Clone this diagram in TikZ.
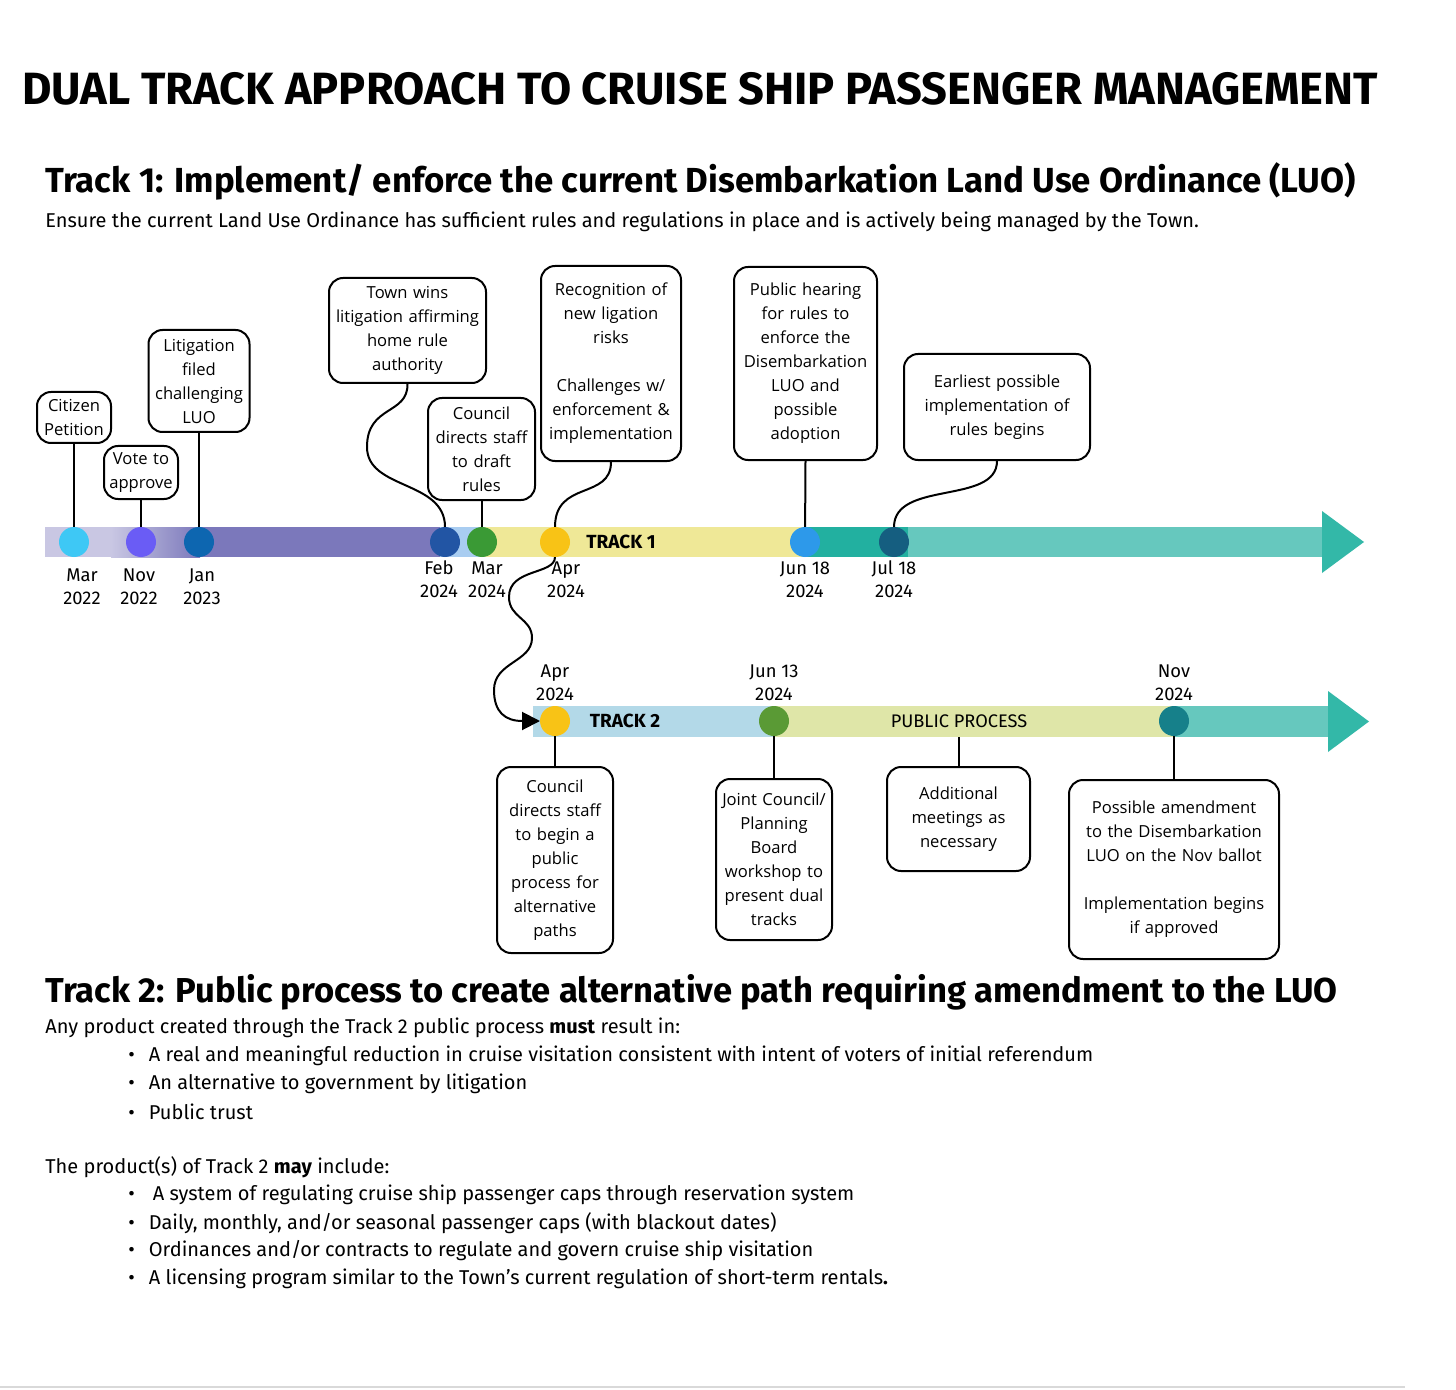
\documentclass[tikz,border=0pt]{standalone}
\usepackage{fontspec}
\usepackage{tikz}
\usetikzlibrary{positioning,arrows.meta}
\setmainfont{Fira Sans}
\newfontfamily\boxfont{Open Sans}

\definecolor{lavender}{HTML}{C9C7E3}
\definecolor{purplebar}{HTML}{7B78BB}
\definecolor{skybar}{HTML}{A9CDF1}
\definecolor{yellowbar}{HTML}{EFE897}
\definecolor{tealbar}{HTML}{22B0A0}
\definecolor{lteal}{HTML}{66C8BE}
\definecolor{headteal}{HTML}{33B8A8}
\definecolor{bluebar}{HTML}{B3D9E8}
\definecolor{greenbar}{HTML}{DFE6A8}
\definecolor{dcyan}{HTML}{3EC8F5}
\definecolor{dviolet}{HTML}{6A5CF5}
\definecolor{dblue}{HTML}{0D66B0}
\definecolor{dnavy}{HTML}{2255A4}
\definecolor{dgreen}{HTML}{3A9A35}
\definecolor{dyellow}{HTML}{F8C316}
\definecolor{dsky}{HTML}{2D99EA}
\definecolor{dpetrol}{HTML}{155E80}
\definecolor{dolive}{HTML}{5A9A35}
\definecolor{dteal}{HTML}{16808A}

\tikzset{
  evt/.style={draw, line width=1pt, rounded corners=7pt, align=center, inner sep=0pt,
    font=\boxfont\fontsize{8.3}{12}\selectfont},
  dot/.style={circle, minimum size=15pt, inner sep=0pt},
  datelbl/.style={align=center, font=\fontsize{9.2}{11.5}\selectfont},
  link/.style={line width=1pt},
  bodytxt/.style={anchor=west, inner sep=0pt, font=\fontsize{10}{12}\selectfont},
  trackname/.style={font=\bfseries\fontsize{9.5}{10}\selectfont},
}

\begin{document}
\begin{tikzpicture}[x=0.5pt,y=-0.5pt]
\useasboundingbox (0,0) rectangle (1456,1390);
\fill[white] (0,0) rectangle (1456,1390);
\draw[black!15, line width=1pt] (0,1387) -- (1405,1387);

% headings
\node[anchor=west, inner sep=0pt, font=\bfseries\fontsize{22.6}{26}\selectfont] (title) at (22,89)
  {DUAL TRACK APPROACH TO CRUISE SHIP PASSENGER MANAGEMENT};
\node[anchor=west, inner sep=0pt, font=\bfseries\fontsize{17.4}{20}\selectfont] (head1) at (45,181)
  {Track 1: Implement/ enforce the current Disembarkation Land Use Ordinance (LUO)};
\node[bodytxt] (sub1) at (45,222)
  {Ensure the current Land Use Ordinance has sufficient rules and regulations in place and is actively being managed by the Town.};

% track 1 bar
\fill[lavender] (45,527) rectangle (112,557);
\shade[left color=lavender, right color=purplebar] (111,527) rectangle (200,557);
\fill[purplebar] (199,527) rectangle (441,557);
\fill[skybar] (440,527) rectangle (486,557);
\fill[yellowbar] (485,527) rectangle (806,557);
\fill[tealbar] (805,527) rectangle (909,557);
\fill[lteal] (908,527) rectangle (1323,557);
\fill[headteal] (1322,511) -- (1364,542) -- (1322,573) -- cycle;
\node[trackname] (t1) at (621,542) {TRACK 1};

% track 2 bar
\fill[bluebar] (533,706) rectangle (775,737);
\fill[greenbar] (774,706) rectangle (1175,737);
\fill[lteal] (1174,706) rectangle (1329,737);
\fill[headteal] (1328,691) -- (1369,721.5) -- (1328,752) -- cycle;
\node[trackname] (t2) at (625,721) {TRACK 2};
\node[font=\fontsize{9.1}{10}\selectfont] (pubproc) at (959,721) {PUBLIC PROCESS};

% track 1 boxes
\node[evt, text width=37pt, minimum height=25.5pt] (cit) at (74,417.5) {Citizen\\Petition};
\node[evt, text width=37pt, minimum height=26.5pt] (vote) at (141,472.5) {Vote to\\approve};
\node[evt, text width=50.5pt, minimum height=51pt] (lit) at (199,381) {Litigation\\filed\\challenging\\LUO};
\node[evt, text width=78.5pt, minimum height=52.5pt] (town) at (407.5,330.5) {Town wins\\litigation affirming\\home rule\\authority};
\node[evt, text width=53.5pt, minimum height=51pt] (cds) at (481.5,449) {Council\\directs staff\\to draft\\rules};
\node[evt, text width=70pt, minimum height=97.5pt] (reco) at (611,363.5) {Recognition of\\new ligation\\risks\\[12pt]Challenges w/\\enforcement \&\\implementation};
\node[evt, text width=71.5pt, minimum height=96.5pt] (hear) at (805.5,363.5) {Public hearing\\for rules to\\enforce the\\Disembarkation\\LUO and\\possible\\adoption};
\node[evt, text width=93pt, minimum height=53pt] (earl) at (997,407) {Earliest possible\\implementation of\\rules begins};

% track 2 boxes
\node[evt, text width=58pt, minimum height=93pt] (cps) at (555,860) {Council\\directs staff\\to begin a\\public\\process for\\alternative\\paths};
\node[evt, text width=58pt, minimum height=80.5pt] (joint) at (774,859.5) {Joint Council/\\Planning\\Board\\workshop to\\present dual\\tracks};
\node[evt, text width=71.5pt, minimum height=52pt] (addl) at (958.5,819) {Additional\\meetings as\\necessary};
\node[evt, text width=105pt, minimum height=89.5pt] (poss) at (1174,869.5) {Possible amendment\\to the Disembarkation\\LUO on the Nov ballot\\[12pt]Implementation begins\\if approved};

% connectors
\coordinate (pp) at (958.5,737);
\coordinate (t2in) at (540,721);
\draw[link] (cit) -- (74,542);
\draw[link] (vote) -- (141,542);
\draw[link] (lit) -- (199,542);
\draw[link] (cds) -- (481.5,542);
\draw[link] (hear.south) -- (805,542);
\draw[link] (town.south) .. controls (408,415) and (367,405) .. (367,447)
  .. controls (367,490) and (445,480) .. (445,527);
\draw[link] (reco.south) .. controls (611,500) and (555,480) .. (555,527);
\draw[link] (earl.south) .. controls (997,505) and (894,480) .. (894,527);
\draw[link] (cps) -- (555,721);
\draw[link] (joint) -- (774,721);
\draw[link] (addl) -- (pp);
\draw[link] (poss) -- (1174,721);
\draw[link, -{Triangle[length=9pt,width=9pt]}] (555,557) .. controls (555,575) and (509,568) .. (509,597)
  .. controls (509,618) and (532,618) .. (532,638)
  .. controls (532,662) and (494,662) .. (494,690)
  .. controls (494,712) and (505,721) .. (t2in);

% dots track 1
\node[dot, fill=dcyan] (m1) at (74,542) {};
\node[dot, fill=dviolet] (m2) at (141,542) {};
\node[dot, fill=dblue] (m3) at (199,542) {};
\node[dot, fill=dnavy] (m4) at (445,542) {};
\node[dot, fill=dgreen] (m5) at (482,542) {};
\node[dot, fill=dyellow] (m6) at (555,542) {};
\node[dot, fill=dsky] (m7) at (805,542) {};
\node[dot, fill=dpetrol] (m8) at (894,542) {};
% dots track 2
\node[dot, fill=dyellow] (n1) at (555,721) {};
\node[dot, fill=dolive] (n2) at (774,721) {};
\node[dot, fill=dteal] (n3) at (1174,721) {};

% dates
\node[datelbl] (d1) at (82,586.5) {Mar\\2022};
\node[datelbl] (d2) at (139,586.5) {Nov\\2022};
\node[datelbl] (d3) at (202,586.5) {Jan\\2023};
\node[datelbl] (d4) at (439,579.5) {Feb\\2024};
\node[datelbl] (d5) at (487,579.5) {Mar\\2024};
\node[datelbl] (d6) at (566,579.5) {Apr\\2024};
\node[datelbl] (d7) at (805,579.5) {Jun 18\\2024};
\node[datelbl] (d8) at (894,579.5) {Jul 18\\2024};
\node[datelbl] (e1) at (555,682.5) {Apr\\2024};
\node[datelbl] (e2) at (774,682.5) {Jun 13\\2024};
\node[datelbl] (e3) at (1174,682.5) {Nov\\2024};

% track 2 text
\node[anchor=west, inner sep=0pt, font=\bfseries\fontsize{17.3}{20}\selectfont] (head2) at (45,992)
  {Track 2: Public process to create alternative path requiring amendment to the LUO};
\node[bodytxt] (must) at (45,1028) {Any product created through the Track 2 public process \textbf{must} result in:};
\node[bodytxt] (b1) at (128,1056) {\textbullet\hspace{7pt}A real and meaningful reduction in cruise visitation consistent with intent of voters of initial referendum};
\node[bodytxt] (b2) at (128,1084) {\textbullet\hspace{7pt}An alternative to government by litigation};
\node[bodytxt] (b3) at (128,1112) {\textbullet\hspace{7pt}Public trust};
\node[bodytxt] (may) at (45,1167) {The product(s) of Track 2 \textbf{may} include:};
\node[bodytxt] (p1) at (128,1195) {\textbullet\hspace{9pt}A system of regulating cruise ship passenger caps through reservation system};
\node[bodytxt] (p2) at (128,1223) {\textbullet\hspace{7pt}Daily, monthly, and/or seasonal passenger caps (with blackout dates)};
\node[bodytxt] (p3) at (128,1251) {\textbullet\hspace{7pt}Ordinances and/or contracts to regulate and govern cruise ship visitation};
\node[bodytxt] (p4) at (128,1279) {\textbullet\hspace{7pt}A licensing program similar to the Town’s current regulation of short-term rentals\textbf{.}};
\end{tikzpicture}
\end{document}
